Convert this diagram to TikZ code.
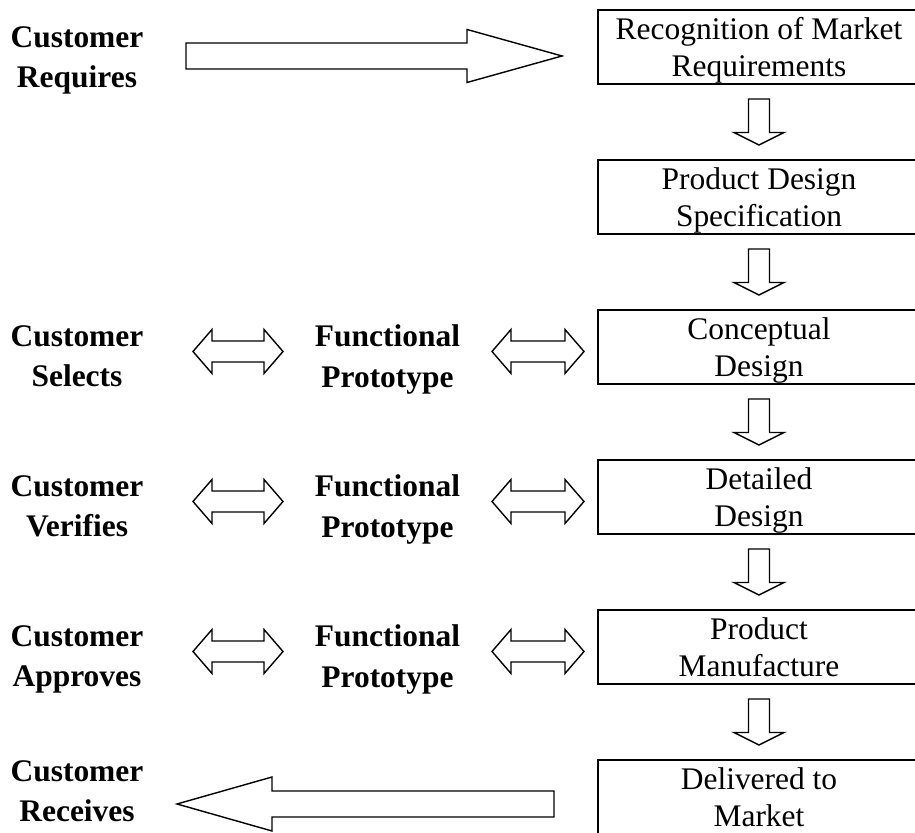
\documentclass[tikz,border=0pt]{standalone}
\usepackage{fontspec}
\setmainfont{Liberation Serif}
\usetikzlibrary{positioning,calc}

% hollow block arrow: tail, tip, shaft half width, head half width, head length
\newcommand{\fatarrow}[5]{%
  \coordinate (hb) at ($(#2)!#5!(#1)$);
  \draw[blk] ($(#1)!#3!90:(#2)$) -- ($(hb)!#3!90:(#2)$)
    -- ($(hb)!#4!90:(#2)$) -- (#2) -- ($(hb)!#4!-90:(#2)$)
    -- ($(hb)!#3!-90:(#2)$) -- ($(#1)!#3!-90:(#2)$) -- cycle;}
% same with a head on both ends
\newcommand{\fatdarrow}[5]{%
  \coordinate (ha) at ($(#1)!#5!(#2)$);
  \coordinate (hb) at ($(#2)!#5!(#1)$);
  \draw[blk] (#1) -- ($(ha)!#4!90:(#2)$) -- ($(ha)!#3!90:(#2)$)
    -- ($(hb)!#3!90:(#2)$) -- ($(hb)!#4!90:(#2)$) -- (#2)
    -- ($(hb)!#4!-90:(#2)$) -- ($(hb)!#3!-90:(#2)$)
    -- ($(ha)!#3!-90:(#2)$) -- ($(ha)!#4!-90:(#2)$) -- cycle;}

\begin{document}
\begin{tikzpicture}[
  stage/.style={draw, line width=1.1pt, rectangle, minimum width=6.44cm,
                minimum height=1.48cm, inner sep=0pt, align=center,
                text depth=0pt, font=\fontsize{17.9}{21}\selectfont},
  who/.style={align=center, inner sep=0pt, text depth=0pt,
              font=\fontsize{17.9}{23}\selectfont\bfseries},
  blk/.style={draw, line width=0.8pt, fill=white, line join=miter}
]
\useasboundingbox (0,0) rectangle (18.3,16.66);

% process stages
\node[stage] (rec) at (15.18,15.72) {Recognition of Market\\Requirements};
\node[stage] (pds) at (15.18,12.72) {Product Design\\Specification};
\node[stage] (cd)  at (15.18,9.72)  {Conceptual\\Design};
\node[stage] (dd)  at (15.18,6.72)  {Detailed\\Design};
\node[stage] (pm)  at (15.18,3.72)  {Product\\Manufacture};
\node[stage] (dm)  at (15.18,0.72)  {Delivered to\\Market};

% customer side
\node[who] (req) at (1.54,15.52) {Customer\\Requires};
\node[who] (sel) at (1.54,9.54)  {Customer\\Selects};
\node[who] (ver) at (1.54,6.54)  {Customer\\Verifies};
\node[who] (app) at (1.54,3.54)  {Customer\\Approves};
\node[who] (rcv) at (1.54,0.84)  {Customer\\Receives};

% prototypes
\node[who] (fp1) at (7.75,9.54) {Functional\\Prototype};
\node[who] (fp2) at (7.75,6.54) {Functional\\Prototype};
\node[who] (fp3) at (7.75,3.54) {Functional\\Prototype};

% flow down the stages
\foreach \a/\b in {rec/pds, pds/cd, cd/dd, dd/pm, pm/dm} {
  \coordinate (t) at ($(\a.south)+(0,-0.28)$);
  \coordinate (h) at ($(\b.north)+(0,0.28)$);
  \fatarrow{t}{h}{0.21cm}{0.5cm}{0.25cm}
}

% requirement in, product out
\coordinate (reqA) at (3.72,15.54);
\coordinate (reqB) at ($(rec.west)+(-0.7,-0.18)$);
\fatarrow{reqA}{reqB}{0.26cm}{0.53cm}{1.9cm}
\coordinate (rcvA) at ($(dm.west)+(-0.86,-0.14)$);
\coordinate (rcvB) at (3.54,0.58);
\fatarrow{rcvA}{rcvB}{0.26cm}{0.54cm}{1.9cm}

% customer <-> prototype <-> stage
\foreach \s/\p/\y in {cd/fp1/9.63, dd/fp2/6.63, pm/fp3/3.63} {
  \coordinate (l1) at (3.86,\y);
  \coordinate (l2) at (5.66,\y);
  \coordinate (r1) at (9.84,\y);
  \coordinate (r2) at (11.68,\y);
  \fatdarrow{l1}{l2}{0.21cm}{0.44cm}{0.38cm}
  \fatdarrow{r1}{r2}{0.21cm}{0.44cm}{0.38cm}
}
\end{tikzpicture}
\end{document}
